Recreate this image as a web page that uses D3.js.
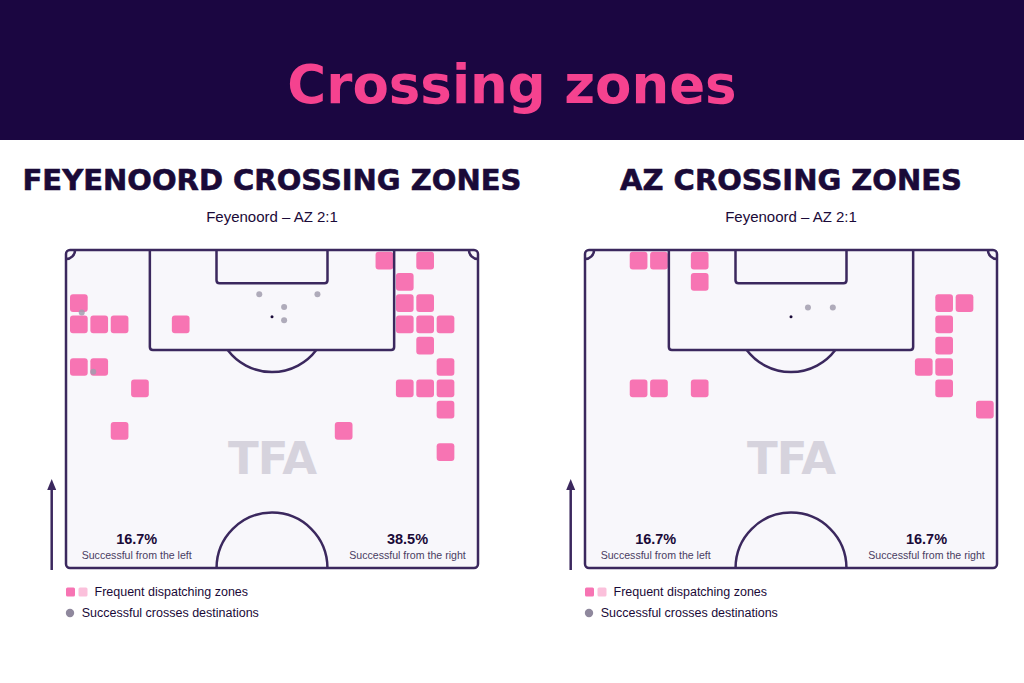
<!DOCTYPE html>
<html>
<head>
<meta charset="utf-8">
<script src="https://cdn.jsdelivr.net/npm/d3@7"></script>
<style>
  html, body { margin: 0; padding: 0; background: #ffffff; }
  svg { display: block; }
</style>
</head>
<body>
<svg id="chart" width="1024" height="683"></svg>
<script>
// ---------- DATA ----------
const mainTitle = "Crossing zones";
const teamTitles = ["FEYENOORD CROSSING ZONES", "AZ CROSSING ZONES"];
const matchLabel = "Feyenoord – AZ 2:1";
const sideLabels = ["Successful from the left", "Successful from the right"];
const legendLabels = ["Frequent dispatching zones", "Successful crosses destinations"];
const watermark = "TFA";

// Dispatching zones: [column, row] cells on a 20 x 15 grid of the attacking half
const feyenoordZones = [
  [0,2],[0,3],[1,3],[2,3],[5,3],[0,5],[1,5],[3,6],[2,8],
  [15,0],[17,0],[16,1],[16,2],[17,2],[16,3],[17,3],[18,3],[17,4],
  [18,5],[16,6],[17,6],[18,6],[18,7],[13,8],[18,9]
];
const azZones = [
  [2,0],[3,0],[5,0],[5,1],[2,6],[3,6],[5,6],
  [17,2],[18,2],[17,3],[17,4],[16,5],[17,5],[17,6],[19,7]
];
// Successful cross destinations in metres [x across pitch, y from goal line]
const feyenoordDestinations = [[2.6,10.3],[4.5,20.1],[31.9,7.3],[41.5,7.3],[36.0,9.4],[36.0,11.6]];
const azDestinations = [[36.8,9.5],[40.9,9.5]];
// Success rates [left, right]
const feyenoordRates = ["16.7%", "38.5%"];
const azRates = ["16.7%", "16.7%"];

// ---------- STYLE ----------
const C = {
  header: "#1b0641",
  pink: "#f5428f",
  zone: "#f774b3",
  zoneLight: "#fbc0db",
  line: "#3b285e",
  pitch: "#f8f7fb",
  dark: "#1a0a38",
  text: "#4a3d62",
  dot: "#a29dae",
  water: "#d6d3dd"
};

const svg = d3.select("#chart");

// header
svg.append("rect").attr("x", 0).attr("y", 0).attr("width", 1024).attr("height", 140).attr("fill", C.header);
svg.append("text").attr("x", 512).attr("y", 103)
  .attr("text-anchor", "middle")
  .attr("font-family", "DejaVu Sans, sans-serif").attr("font-weight", "bold")
  .attr("font-size", 53).attr("fill", C.pink).text(mainTitle);

const PW = 412, PH = 318;
const sx = d3.scaleLinear().domain([0, 68]).range([0, PW]);
const sy = d3.scaleLinear().domain([0, 52.5]).range([0, PH]);
const pxPerM = PW / 68;
const colX = d3.scaleLinear().domain([0, 19]).range([4, 4 + 19 * 20.37]);
const rowY = d3.scaleLinear().domain([0, 14]).range([1.7, 1.7 + 14 * 21.29]);
const CELL = 17.7;

function boxPath(x0, x1, h, rr) {
  return `M${x0},0 V${h - rr} Q${x0},${h} ${x0 + rr},${h} H${x1 - rr} Q${x1},${h} ${x1},${h - rr} V0`;
}

const panels = [
  { x: 66,  title: teamTitles[0], zones: feyenoordZones, dest: feyenoordDestinations, rates: feyenoordRates },
  { x: 585, title: teamTitles[1], zones: azZones,        dest: azDestinations,        rates: azRates }
];

panels.forEach(p => {
  const cx = p.x + PW / 2;
  svg.append("text").attr("x", cx).attr("y", 190)
    .attr("text-anchor", "middle")
    .attr("font-family", "DejaVu Sans, sans-serif").attr("font-weight", "bold")
    .attr("font-size", 29).attr("fill", C.dark)
    .attr("stroke", C.dark).attr("stroke-width", 0.6)
    .text(p.title);
  svg.append("text").attr("x", cx).attr("y", 222)
    .attr("text-anchor", "middle")
    .attr("font-family", "Liberation Sans, Arial, sans-serif")
    .attr("font-size", 15).attr("fill", C.dark)
    .text(matchLabel);

  const g = svg.append("g").attr("transform", `translate(${p.x},250)`);

  // pitch background
  g.append("rect").attr("x", 0).attr("y", 0).attr("width", PW).attr("height", PH)
    .attr("rx", 4).attr("fill", C.pitch);

  // watermark
  g.append("text").attr("x", sx(34)).attr("y", 224)
    .attr("text-anchor", "middle")
    .attr("font-family", "DejaVu Sans, sans-serif").attr("font-weight", "bold")
    .attr("font-size", 45).attr("letter-spacing", -1).attr("fill", C.water)
    .text(watermark);

  // zones
  g.selectAll("rect.zone").data(p.zones).join("rect")
    .attr("class", "zone")
    .attr("x", d => colX(d[0])).attr("y", d => rowY(d[1]))
    .attr("width", CELL).attr("height", CELL).attr("rx", 3)
    .attr("fill", C.zone);

  // pitch lines
  const lines = g.append("g").attr("fill", "none").attr("stroke", C.line).attr("stroke-width", 2.5);
  lines.append("rect").attr("x", 0).attr("y", 0).attr("width", PW).attr("height", PH).attr("rx", 4);
  lines.append("path").attr("d", boxPath(sx(13.84), sx(54.16), sy(16.5), 3));
  lines.append("path").attr("d", boxPath(sx(24.84), sx(43.16), sy(5.5), 3));
  const r = 9.15 * pxPerM;
  const a = Math.atan2(5.5, Math.sqrt(9.15 * 9.15 - 5.5 * 5.5));
  const pa = d3.path(); pa.arc(sx(34), sy(11), r, a, Math.PI - a);
  lines.append("path").attr("d", pa.toString());
  const pc = d3.path(); pc.arc(sx(34), sy(52.5), r, Math.PI, 2 * Math.PI);
  lines.append("path").attr("d", pc.toString());
  const k1 = d3.path(); k1.arc(sx(0), sy(0), 1.5 * pxPerM, 0, Math.PI / 2);
  lines.append("path").attr("d", k1.toString());
  const k2 = d3.path(); k2.arc(sx(68), sy(0), 1.5 * pxPerM, Math.PI / 2, Math.PI);
  lines.append("path").attr("d", k2.toString());

  // penalty spot
  g.append("circle").attr("cx", sx(34)).attr("cy", sy(11)).attr("r", 1.5).attr("fill", C.dark);

  // destinations
  g.selectAll("circle.dest").data(p.dest).join("circle")
    .attr("class", "dest")
    .attr("cx", d => sx(d[0])).attr("cy", d => sy(d[1]))
    .attr("r", 3).attr("fill", C.dot).attr("opacity", 0.85);

  // rates
  [[70.7, p.rates[0], sideLabels[0]], [341.5, p.rates[1], sideLabels[1]]].forEach(([x, v, lab]) => {
    g.append("text").attr("x", x).attr("y", 294.3).attr("text-anchor", "middle")
      .attr("font-family", "Liberation Sans, Arial, sans-serif").attr("font-weight", "bold")
      .attr("font-size", 14.5).attr("fill", C.dark).text(v);
    g.append("text").attr("x", x).attr("y", 309).attr("text-anchor", "middle")
      .attr("font-family", "Liberation Sans, Arial, sans-serif")
      .attr("font-size", 10.6).attr("fill", C.text).text(lab);
  });

  // direction arrow
  const ax = p.x - 14.3;
  svg.append("line").attr("x1", ax).attr("x2", ax).attr("y1", 570).attr("y2", 486)
    .attr("stroke", C.line).attr("stroke-width", 2.5);
  svg.append("path").attr("d", `M${ax - 4.5},490 L${ax},479 L${ax + 4.5},490 Z`).attr("fill", C.line);

  // legend
  svg.append("rect").attr("x", p.x).attr("y", 587.5).attr("width", 9).attr("height", 9).attr("rx", 1.5).attr("fill", C.zone);
  svg.append("rect").attr("x", p.x + 12.5).attr("y", 587.5).attr("width", 9).attr("height", 9).attr("rx", 1.5).attr("fill", C.zoneLight);
  svg.append("text").attr("x", p.x + 28.5).attr("y", 596)
    .attr("font-family", "Liberation Sans, Arial, sans-serif")
    .attr("font-size", 12.5).attr("fill", C.dark).text(legendLabels[0]);
  svg.append("circle").attr("cx", p.x + 4).attr("cy", 613).attr("r", 4.2).attr("fill", "#8f889d");
  svg.append("text").attr("x", p.x + 15.7).attr("y", 617)
    .attr("font-family", "Liberation Sans, Arial, sans-serif")
    .attr("font-size", 12.5).attr("fill", C.dark).text(legendLabels[1]);
});
</script>
</body>
</html>
